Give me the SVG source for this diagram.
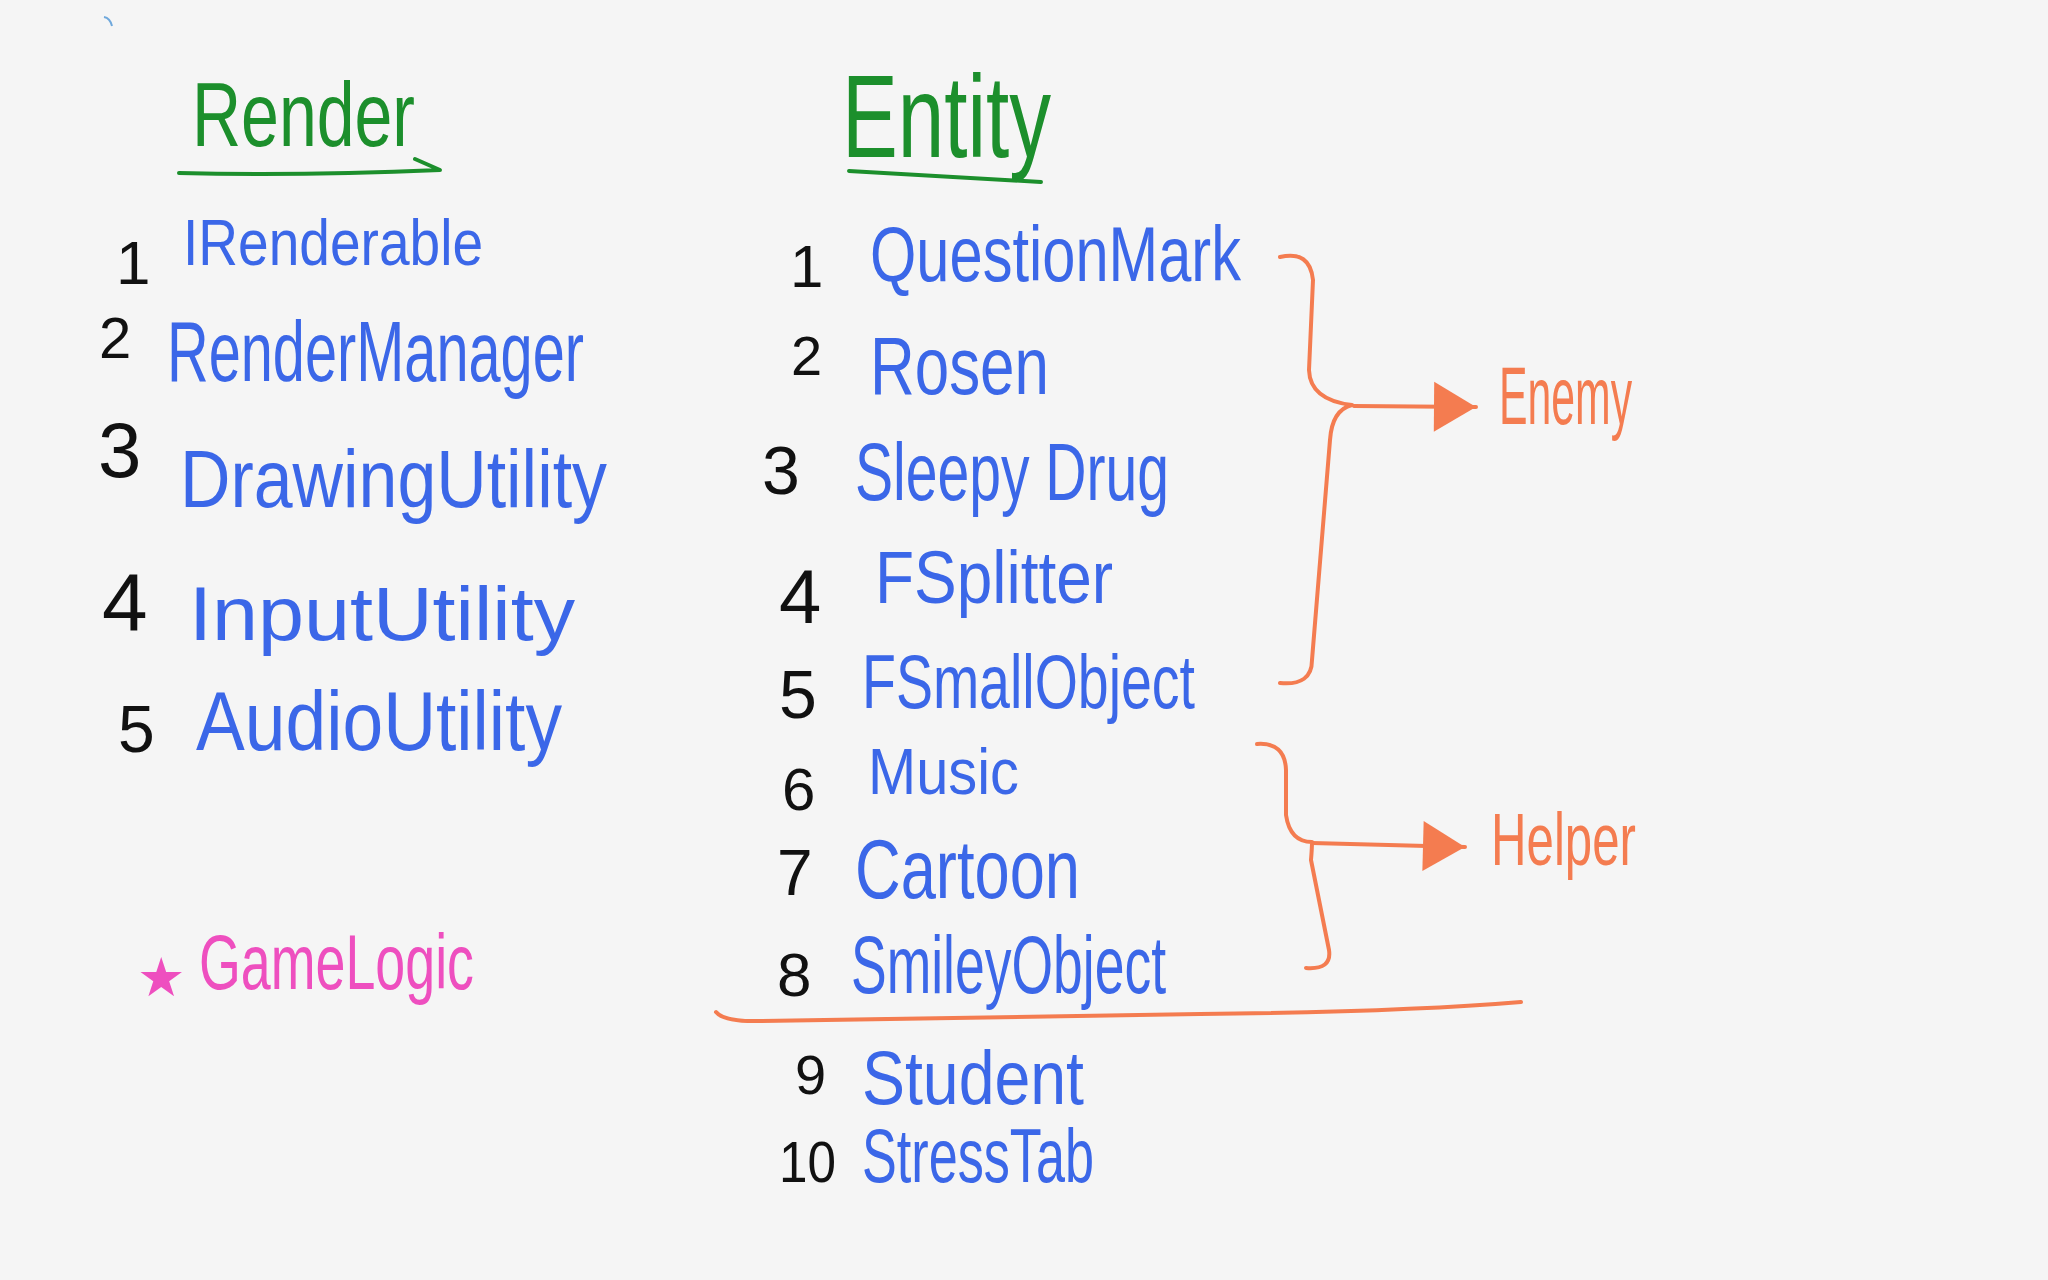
<svg xmlns="http://www.w3.org/2000/svg" width="2048" height="1280" viewBox="0 0 2048 1280">
<defs>
<style>
text{font-family:"Liberation Sans","DejaVu Sans",sans-serif;}
.num{fill:#111111;}
.blue{fill:#3b67e8;}
.green{fill:#1c8f2c;}
.orange{fill:#f47c50;}
.pink{fill:#ee4fbf;}
.br{fill:none;stroke:#f47c50;stroke-width:4;stroke-linecap:round;stroke-linejoin:round;}
.ul{fill:none;stroke:#1c8f2c;stroke-width:4;stroke-linecap:round;stroke-linejoin:round;}
</style>
<marker id="tri" markerUnits="userSpaceOnUse" markerWidth="46" markerHeight="54" refX="44" refY="27" orient="auto">
<path d="M2,2 L44,27 L2,52 Z" fill="#f47c50"/>
</marker>
</defs>
<rect width="2048" height="1280" fill="#f5f5f5"/>
<path d="M104,17 Q110,18 112,26" fill="none" stroke="#6fa8dc" stroke-width="2"/>

<g id="render-title">
<text class="green" x="192" y="146" font-size="90" textLength="223" lengthAdjust="spacingAndGlyphs">Render</text>
<path class="ul" d="M179,173 Q300,176 440,170 L415,159"/>
</g>
<g id="entity-title">
<text class="green" x="842" y="157" font-size="116" textLength="209" lengthAdjust="spacingAndGlyphs">Entity</text>
<path class="ul" d="M849,171 L1041,182"/>
</g>

<g id="r1"><text class="num" x="116" y="284" font-size="62">1</text><text class="blue" x="183" y="265" font-size="64" textLength="300" lengthAdjust="spacingAndGlyphs">IRenderable</text></g>
<g id="r2"><text class="num" x="99" y="358" font-size="58">2</text><text class="blue" x="167" y="381" font-size="86" textLength="417" lengthAdjust="spacingAndGlyphs">RenderManager</text></g>
<g id="r3"><text class="num" x="98" y="477" font-size="78">3</text><text class="blue" x="180" y="507" font-size="82" textLength="427" lengthAdjust="spacingAndGlyphs">DrawingUtility</text></g>
<g id="r4"><text class="num" x="102" y="631" font-size="82">4</text><text class="blue" x="189" y="640" font-size="76" textLength="386" lengthAdjust="spacingAndGlyphs">InputUtility</text></g>
<g id="r5"><text class="num" x="118" y="752" font-size="66">5</text><text class="blue" x="196" y="750" font-size="84" textLength="366" lengthAdjust="spacingAndGlyphs">AudioUtility</text></g>

<g id="gamelogic"><text class="pink" x="137" y="996" font-size="54">★</text><text class="pink" x="199" y="989" font-size="78" textLength="275" lengthAdjust="spacingAndGlyphs">GameLogic</text></g>

<g id="e1"><text class="num" x="790" y="287" font-size="60">1</text><text class="blue" x="870" y="281" font-size="78" textLength="371" lengthAdjust="spacingAndGlyphs">QuestionMark</text></g>
<g id="e2"><text class="num" x="791" y="375" font-size="56">2</text><text class="blue" x="870" y="394" font-size="82" textLength="179" lengthAdjust="spacingAndGlyphs">Rosen</text></g>
<g id="e3"><text class="num" x="762" y="494" font-size="68">3</text><text class="blue" x="855" y="500" font-size="82" textLength="314" lengthAdjust="spacingAndGlyphs">Sleepy Drug</text></g>
<g id="e4"><text class="num" x="779" y="623" font-size="76">4</text><text class="blue" x="875" y="603" font-size="74" textLength="238" lengthAdjust="spacingAndGlyphs">FSplitter</text></g>
<g id="e5"><text class="num" x="779" y="718" font-size="68">5</text><text class="blue" x="862" y="708" font-size="76" textLength="333" lengthAdjust="spacingAndGlyphs">FSmallObject</text></g>
<g id="e6"><text class="num" x="782" y="810" font-size="60">6</text><text class="blue" x="868" y="794" font-size="64" textLength="151" lengthAdjust="spacingAndGlyphs">Music</text></g>
<g id="e7"><text class="num" x="777" y="895" font-size="64">7</text><text class="blue" x="855" y="898" font-size="84" textLength="225" lengthAdjust="spacingAndGlyphs">Cartoon</text></g>
<g id="e8"><text class="num" x="777" y="996" font-size="62">8</text><text class="blue" x="851" y="993" font-size="82" textLength="315" lengthAdjust="spacingAndGlyphs">SmileyObject</text></g>
<g id="e9"><text class="num" x="795" y="1094" font-size="56">9</text><text class="blue" x="862" y="1104" font-size="76" textLength="222" lengthAdjust="spacingAndGlyphs">Student</text></g>
<g id="e10"><text class="num" x="779" y="1182" font-size="58" textLength="57" lengthAdjust="spacingAndGlyphs">10</text><text class="blue" x="862" y="1182" font-size="76" textLength="232" lengthAdjust="spacingAndGlyphs">StressTab</text></g>

<g id="enemy"><text class="orange" x="1499" y="424" font-size="82" textLength="133" lengthAdjust="spacingAndGlyphs">Enemy</text></g>
<g id="helper"><text class="orange" x="1491" y="865" font-size="74" textLength="145" lengthAdjust="spacingAndGlyphs">Helper</text></g>

<g id="connectors">
<path class="br" d="M1280,257 Q1310,250 1313,280 L1309,370 Q1310,400 1352,405 Q1332,410 1330,440 L1312,660 Q1312,686 1280,683"/>
<path class="br" d="M1354,406 L1476,407" marker-end="url(#tri)"/>
<path class="br" d="M1257,744 Q1285,742 1286,770 L1286,815 Q1290,842 1312,842 Q1312,848 1311,860 L1329,950 Q1332,970 1306,968"/>
<path class="br" d="M1312,843 L1465,847" marker-end="url(#tri)"/>
<path class="br" d="M716,1012 Q724,1022 760,1021 L1200,1014 Q1400,1012 1521,1002"/>
</g>
</svg>
